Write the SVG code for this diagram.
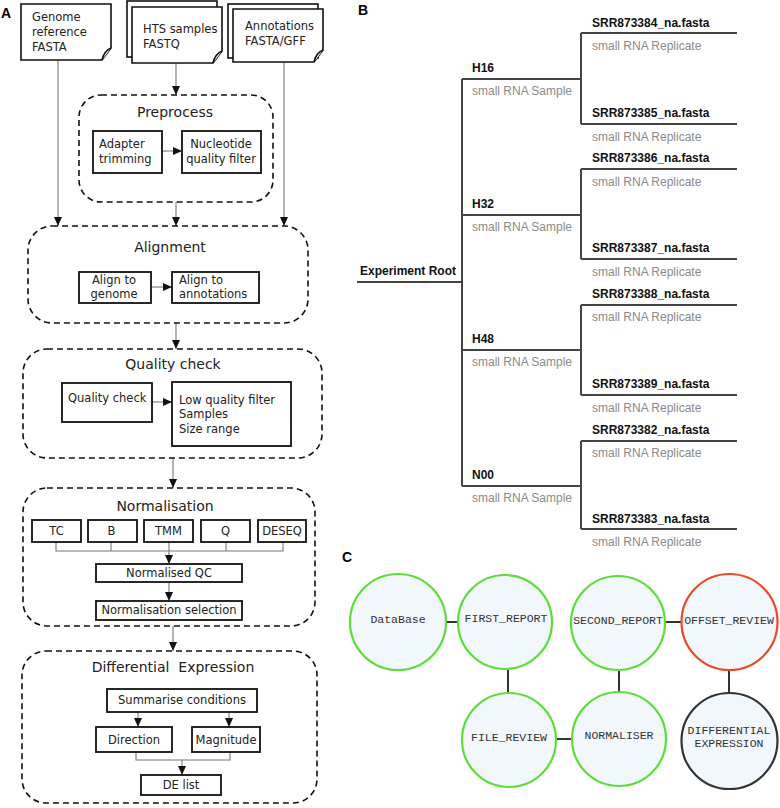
<svg xmlns="http://www.w3.org/2000/svg" width="780" height="808" viewBox="0 0 780 808">
<defs>
<marker id="arr" markerUnits="userSpaceOnUse" markerWidth="9" markerHeight="8" refX="9" refY="4" orient="auto">
<path d="M0,0 L9,4 L0,8 z" fill="#111"/>
</marker>
<style>
.panel{font-family:"Liberation Sans",Arial,sans-serif;font-weight:bold;font-size:14px;fill:#000}
.doc{fill:#fff;stroke:#111;stroke-width:1.6}
.grp{fill:none;stroke:#111;stroke-width:1.6;stroke-dasharray:6 4}
.box{fill:#fff;stroke:#111;stroke-width:1.8}
.t{font-family:"DejaVu Sans",Verdana,sans-serif;font-size:11.5px;fill:#222}
.tt{font-family:"DejaVu Sans",Verdana,sans-serif;font-size:14px;fill:#222;text-anchor:middle}
.c{text-anchor:middle}
.ln{fill:none;stroke:#777;stroke-width:1.1}
.la{fill:none;stroke:#777;stroke-width:1.1;marker-end:url(#arr)}
.tree{fill:none;stroke:#444;stroke-width:2}
.bn{font-family:"Liberation Sans",Arial,sans-serif;font-weight:bold;font-size:12px;fill:#111}
.gn{font-family:"Liberation Sans",Arial,sans-serif;font-size:12px;fill:#8a8a8a}
.cir{fill:#f2f7fc;stroke-width:2.2}
.g{stroke:#5ddc3a}
.r{stroke:#e84a2a}
.k{stroke:#333}
.ct{font-family:"Liberation Mono","Courier New",monospace;font-size:11.5px;fill:#333;text-anchor:middle}
.cl{fill:none;stroke:#333;stroke-width:2}
</style>
</defs>
<rect width="780" height="808" fill="#fff"/>

<text class="panel" x="1" y="18">A</text>
<text class="panel" x="358" y="15">B</text>
<text class="panel" x="342" y="562">C</text>

<!-- Panel A connectors -->
<g id="connectorsA">
<path class="la" d="M176,63 V95"/>
<path class="la" d="M162,151 H182"/>
<path class="la" d="M176,202 V226"/>
<path class="la" d="M58,60 V226"/>
<path class="la" d="M284,62 V226"/>
<path class="la" d="M151,287 H172"/>
<path class="la" d="M176,323 V349"/>
<path class="la" d="M152,402 H172"/>
<path class="la" d="M173,458 V488"/>
<path class="ln" d="M56,542 V551 H283 V542 M111,542 V551 M226,542 V551"/>
<path class="la" d="M169,542 V564"/>
<path class="la" d="M169,582 V601"/>
<path class="la" d="M173,626 V651"/>
<path class="la" d="M138,712 V727"/>
<path class="la" d="M229,712 V727"/>
<path class="ln" d="M136,752 V760 H230 V752"/>
<path class="la" d="M182,760 V775"/>
</g>

<g id="genome">
<path class="doc" d="M21,4 H111 V48 L102,60 H21 Z"/>
<path class="doc" d="M102,60 Q104,51 111,48"/>
<text class="t" x="32" y="21">Genome</text>
<text class="t" x="32" y="36">reference</text>
<text class="t" x="32" y="51">FASTA</text>
</g>

<g id="hts">
<rect class="doc" x="127" y="1" width="90" height="56"/>
<path class="doc" d="M132,7 H222 V51 L213,63 H132 Z"/>
<path class="doc" d="M213,63 Q215,54 222,51"/>
<text class="t" x="143" y="33">HTS samples</text>
<text class="t" x="143" y="48">FASTQ</text>
</g>

<g id="annotations">
<rect class="doc" x="228" y="4" width="90" height="54"/>
<path class="doc" d="M233,9 H323 V50 L314,62 H233 Z"/>
<path class="doc" d="M314,62 Q316,53 323,50"/>
<text class="t" x="245" y="30">Annotations</text>
<text class="t" x="245" y="45">FASTA/GFF</text>
</g>

<g id="preprocess">
<rect class="grp" x="79" y="95" width="194" height="107" rx="22"/>
<text class="tt" x="175" y="117">Preprocess</text>
<rect class="box" x="93" y="131" width="69" height="42"/>
<text class="t" x="99" y="148">Adapter</text>
<text class="t" x="99" y="163">trimming</text>
<rect class="box" x="182" y="131" width="79" height="42"/>
<text class="t c" x="221" y="148">Nucleotide</text>
<text class="t c" x="221" y="163">quality filter</text>
</g>

<g id="alignment">
<rect class="grp" x="28" y="226" width="280" height="97" rx="24"/>
<text class="tt" x="170" y="252">Alignment</text>
<rect class="box" x="79" y="272" width="72" height="31"/>
<text class="t c" x="114" y="284">Align to</text>
<text class="t c" x="114" y="298">genome</text>
<rect class="box" x="172" y="272" width="87" height="31"/>
<text class="t" x="179" y="284">Align to</text>
<text class="t" x="179" y="298">annotations</text>
</g>

<g id="qualitycheck">
<rect class="grp" x="23" y="349" width="299" height="109" rx="24"/>
<text class="tt" x="173" y="369">Quality check</text>
<rect class="box" x="62" y="383" width="90" height="39"/>
<text class="t" x="68" y="402">Quality check</text>
<rect class="box" x="172" y="382" width="119" height="64"/>
<text class="t" x="179" y="404">Low quality filter</text>
<text class="t" x="179" y="418">Samples</text>
<text class="t" x="179" y="433">Size range</text>
</g>

<g id="normalisation">
<rect class="grp" x="23" y="488" width="292" height="138" rx="24"/>
<text class="tt" x="165" y="511">Normalisation</text>
<rect class="box" x="32" y="520" width="49" height="22"/>
<text class="t c" x="56.5" y="535">TC</text>
<rect class="box" x="88" y="520" width="49" height="22"/>
<text class="t c" x="111.5" y="535">B</text>
<rect class="box" x="144" y="520" width="49" height="22"/>
<text class="t c" x="168.5" y="535">TMM</text>
<rect class="box" x="201" y="520" width="49" height="22"/>
<text class="t c" x="225.5" y="535">Q</text>
<rect class="box" x="258" y="520" width="48" height="22"/>
<text class="t c" x="282" y="535">DESEQ</text>
<rect class="box" x="96" y="564" width="146" height="18"/>
<text class="t c" x="169" y="577">Normalised QC</text>
<rect class="box" x="96" y="601" width="146" height="19"/>
<text class="t c" x="169" y="614">Normalisation selection</text>
</g>

<g id="diffexpr">
<rect class="grp" x="22" y="651" width="295" height="152" rx="24"/>
<text class="tt" x="173" y="672" xml:space="preserve" style="white-space:pre">Differential  Expression</text>
<rect class="box" x="107" y="689" width="150" height="23"/>
<text class="t c" x="182" y="704">Summarise conditions</text>
<rect class="box" x="96" y="727" width="76" height="25"/>
<text class="t c" x="134" y="744">Direction</text>
<rect class="box" x="192" y="727" width="68" height="25"/>
<text class="t c" x="226" y="744">Magnitude</text>
<rect class="box" x="141" y="775" width="80" height="20"/>
<text class="t c" x="181" y="789">DE list</text>
</g>

<!-- Panel B -->
<g id="treeLines">
<path class="tree" d="M357,282 H462 M462,79 V486 M462,79 H581 M462,215 H581 M462,350 H581 M462,486 H581"/>
<path class="tree" d="M581,33 V124 M581,169 V259 M581,305 V395 M581,441 V529"/>
<path class="tree" d="M581,33 H737 M581,124 H737 M581,169 H737 M581,259 H737 M581,305 H737 M581,395 H737 M581,441 H737 M581,529 H737"/>
</g>
<g id="root"><text class="bn" x="360" y="275">Experiment Root</text></g>
<g id="h16"><text class="bn" x="472" y="72">H16</text><text class="gn" x="472" y="95">small RNA Sample</text></g>
<g id="h32"><text class="bn" x="472" y="208">H32</text><text class="gn" x="472" y="231">small RNA Sample</text></g>
<g id="h48"><text class="bn" x="472" y="343">H48</text><text class="gn" x="472" y="366">small RNA Sample</text></g>
<g id="n00"><text class="bn" x="472" y="479">N00</text><text class="gn" x="472" y="502">small RNA Sample</text></g>
<g id="srr84"><text class="bn" x="592" y="27">SRR873384_na.fasta</text><text class="gn" x="592" y="50">small RNA Replicate</text></g>
<g id="srr85"><text class="bn" x="592" y="117">SRR873385_na.fasta</text><text class="gn" x="592" y="141">small RNA Replicate</text></g>
<g id="srr86"><text class="bn" x="592" y="162">SRR873386_na.fasta</text><text class="gn" x="592" y="186">small RNA Replicate</text></g>
<g id="srr87"><text class="bn" x="592" y="252">SRR873387_na.fasta</text><text class="gn" x="592" y="276">small RNA Replicate</text></g>
<g id="srr88"><text class="bn" x="592" y="298">SRR873388_na.fasta</text><text class="gn" x="592" y="321">small RNA Replicate</text></g>
<g id="srr89"><text class="bn" x="592" y="388">SRR873389_na.fasta</text><text class="gn" x="592" y="412">small RNA Replicate</text></g>
<g id="srr82"><text class="bn" x="592" y="434">SRR873382_na.fasta</text><text class="gn" x="592" y="457">small RNA Replicate</text></g>
<g id="srr83"><text class="bn" x="592" y="523">SRR873383_na.fasta</text><text class="gn" x="592" y="546">small RNA Replicate</text></g>

<!-- Panel C -->
<g id="connectorsC">
<path class="cl" d="M446,622 H457"/>
<path class="cl" d="M666,622 H681"/>
<path class="cl" d="M508,670 V692"/>
<path class="cl" d="M619,671 V691"/>
<path class="cl" d="M729,670 V693"/>
<path class="cl" d="M557,739 H571"/>
</g>
<g id="database"><circle class="cir g" cx="398" cy="622" r="48"/><text class="ct" x="398" y="623">DataBase</text></g>
<g id="first_report"><circle class="cir g" cx="505" cy="622" r="47"/><text class="ct" x="506" y="622">FIRST_REPORT</text></g>
<g id="second_report"><circle class="cir g" cx="618" cy="623" r="47"/><text class="ct" x="618" y="624">SECOND_REPORT</text></g>
<g id="offset_review"><circle class="cir r" cx="729.5" cy="622" r="48"/><text class="ct" x="729" y="624">OFFSET_REVIEW</text></g>
<g id="file_review"><circle class="cir g" cx="509" cy="740" r="47"/><text class="ct" x="509" y="741">FILE_REVIEW</text></g>
<g id="normaliser"><circle class="cir g" cx="619" cy="739" r="47"/><text class="ct" x="619" y="739">NORMALISER</text></g>
<g id="differential_expression"><circle class="cir k" cx="729.5" cy="741" r="48"/><text class="ct" x="729" y="734">DIFFERENTIAL</text><text class="ct" x="729" y="747">EXPRESSION</text></g>
</svg>
